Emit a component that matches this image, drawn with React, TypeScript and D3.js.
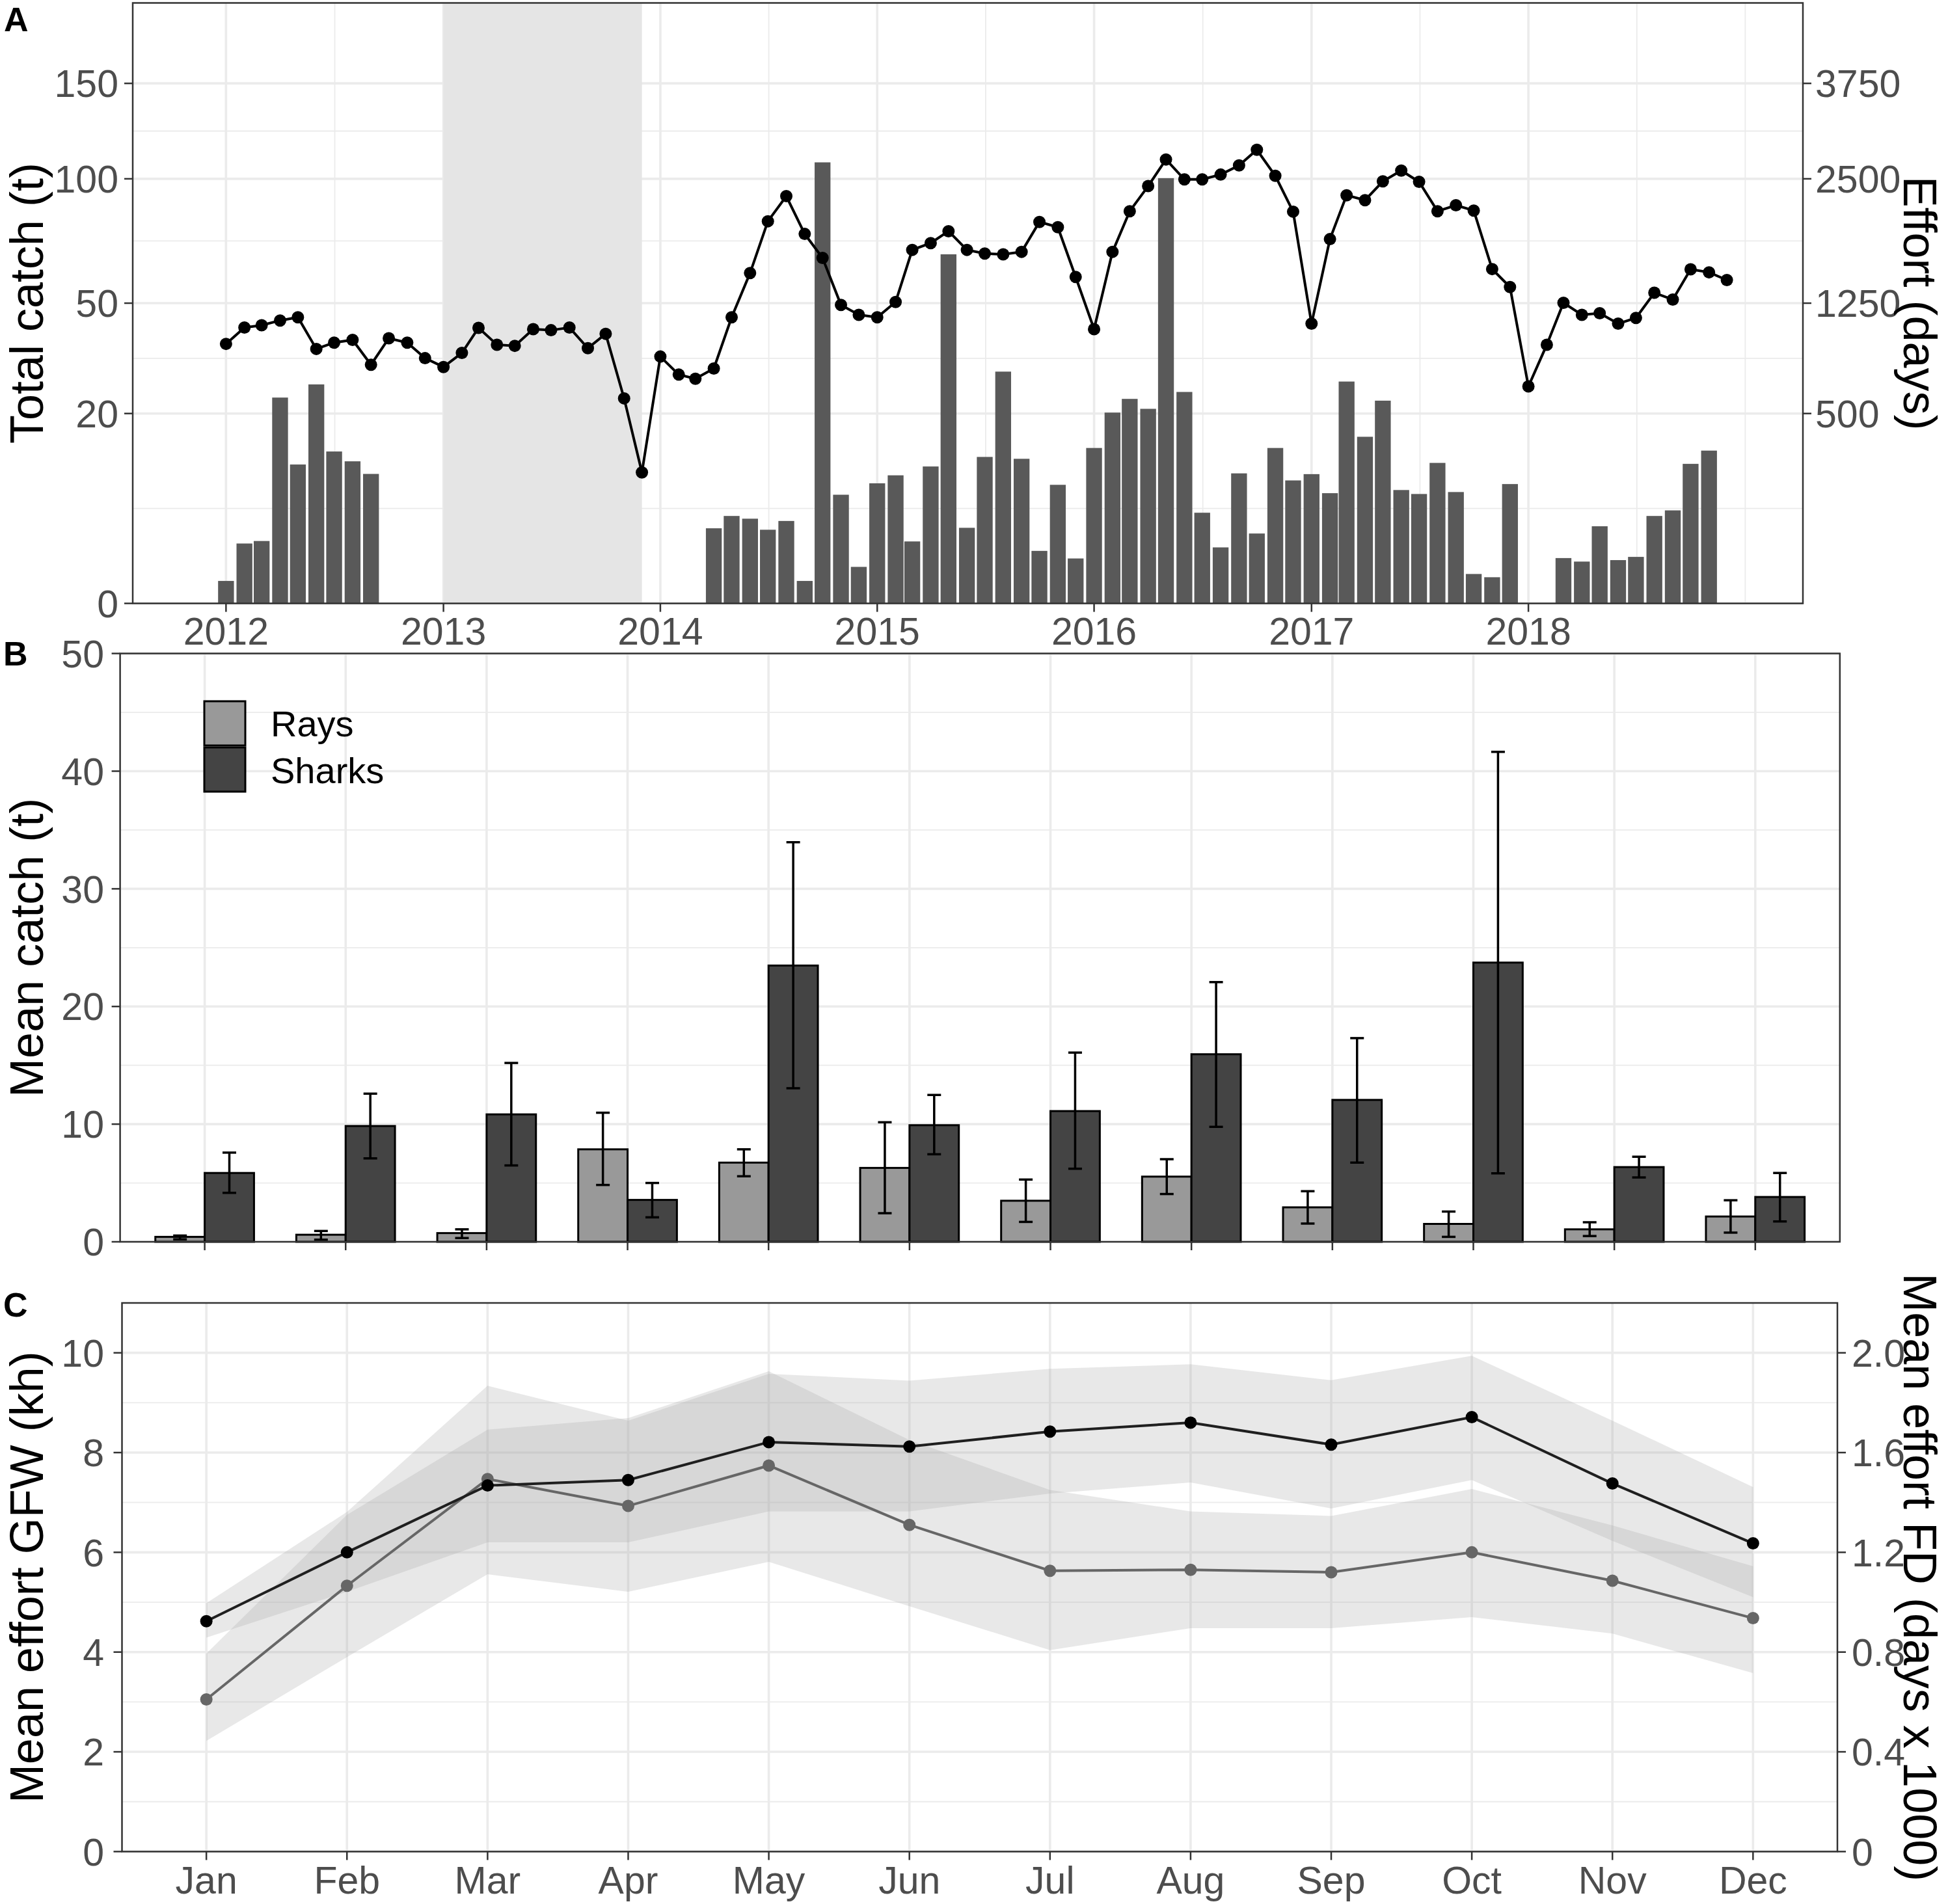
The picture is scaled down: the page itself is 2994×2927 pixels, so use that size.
import * as d3 from "d3";

const W = 2994;
const H = 2927;
const FONT = "'Liberation Sans', Arial, Helvetica, sans-serif";
const GRID = "#EBEBEB";
const AXIS = "#333333";
const TICK_TXT = "#4D4D4D";
const TICK_FS = 59;
const TITLE_FS = 72;
const TAG_FS = 52;

// ---------- Panel A: monthly total catch (t) and effort (days), 2012-2018 ----------
const catchYears = [2012, 2013, 2014, 2015, 2016, 2017, 2018];
const catch2012 = [0.28, 1.99, 2.16, 23.5, 10.7, 26.6, 12.8, 11.2, 9.3, null, null, null];
const catch2013 = [null, null, null, null, null, null, null, null, null, null, null, null];
const catch2014 = [null, null, null, 3.13, 4.24, 3.98, 3.01, 3.77, 0.28, 107.9, 6.55, 0.74];
const catch2015 = [8.0, 9.1, 2.13, 10.4, 67.6, 3.17, 11.9, 29.8, 11.6, 1.53, 7.8, 1.12];
const catch2016 = [13.4, 20.2, 23.2, 21.0, 100.3, 24.8, 4.56, 1.74, 9.38, 2.71, 13.4, 8.39];
const catch2017 = [9.27, 6.74, 27.3, 15.4, 22.8, 7.13, 6.64, 10.95, 6.88, 0.48, 0.38, 7.9];
const catch2018 = [null, null, 1.14, 0.97, 3.3, 1.04, 1.2, 4.24, 4.8, 10.8, 12.95, null];

const effort2012 = [934, 1055, 1073, 1110, 1135, 898, 943, 963, 790, 975, 943, 834];
const effort2013 = [775, 870, 1053, 928, 920, 1043, 1035, 1055, 903, 1008, 583, 238];
const effort2014 = [845, 726, 700, 765, 1135, 1513, 2025, 2300, 1893, 1655, 1235, 1155];
const effort2015 = [1135, 1260, 1733, 1800, 1921, 1733, 1698, 1690, 1714, 2018, 1963, 1478];
const effort2016 = [1043, 1714, 2133, 2415, 2733, 2493, 2493, 2550, 2660, 2853, 2535, 2128];
const effort2017 = [1085, 1840, 2310, 2255, 2470, 2598, 2465, 2133, 2198, 2140, 1550, 1388];
const effort2018 = [653, 928, 1253, 1155, 1168, 1085, 1130, 1338, 1280, 1548, 1520, 1450];

const catchTicks = [0, 20, 50, 100, 150];
const effortTicks = [500, 1250, 2500, 3750];
const effortPerCatch = 25; // secondary axis: effort = catch * 25
const closedStart = new Date(2013, 0, 1);
const closedEnd = new Date(2013, 11, 1);

// ---------- Panel B: mean monthly catch by group ----------
const months = ["Jan", "Feb", "Mar", "Apr", "May", "Jun", "Jul", "Aug", "Sep", "Oct", "Nov", "Dec"];
const raysMean = [0.42, 0.6, 0.74, 7.86, 6.73, 6.28, 3.49, 5.54, 2.93, 1.52, 1.06, 2.15];
const raysLo = [0.21, 0.18, 0.32, 4.83, 5.57, 2.43, 1.69, 4.06, 1.55, 0.42, 0.49, 0.78];
const raysHi = [0.53, 0.92, 1.06, 10.97, 7.86, 10.16, 5.29, 7.02, 4.3, 2.57, 1.66, 3.53];
const sharksMean = [5.85, 9.84, 10.83, 3.56, 23.48, 9.91, 11.11, 15.94, 12.06, 23.73, 6.35, 3.81];
const sharksLo = [4.16, 7.09, 6.49, 2.08, 13.05, 7.44, 6.21, 9.77, 6.73, 5.82, 5.47, 1.73];
const sharksHi = [7.58, 12.59, 15.2, 5.0, 33.96, 12.48, 16.08, 22.07, 17.31, 41.64, 7.23, 5.85];
const meanCatchTicks = [0, 10, 20, 30, 40, 50];

// ---------- Panel C: mean monthly effort ----------
const gfwMean = [3.05, 5.33, 7.47, 6.93, 7.74, 6.55, 5.63, 5.65, 5.6, 6.0, 5.43, 4.68];
const gfwLo = [2.22, 3.9, 5.56, 5.21, 5.81, 4.92, 4.04, 4.48, 4.48, 4.7, 4.37, 3.58];
const gfwHi = [3.97, 6.75, 8.46, 8.69, 9.63, 8.25, 7.25, 6.82, 6.73, 7.27, 6.54, 5.72];
const fdMean = [0.924, 1.2, 1.468, 1.49, 1.642, 1.624, 1.684, 1.72, 1.632, 1.742, 1.476, 1.236];
const fdLo = [0.858, 1.042, 1.24, 1.24, 1.364, 1.364, 1.436, 1.48, 1.376, 1.49, 1.246, 1.02];
const fdHi = [0.996, 1.362, 1.868, 1.728, 1.916, 1.888, 1.936, 1.954, 1.89, 1.988, 1.728, 1.462];
const gfwTicks = [0, 2, 4, 6, 8, 10];
const fdTicks = [0, 0.4, 0.8, 1.2, 1.6, 2.0];
const fdPerGfw = 0.2; // secondary axis: FD = GFW / 5

const catchByYear = [catch2012, catch2013, catch2014, catch2015, catch2016, catch2017, catch2018];
const effortByYear = [effort2012, effort2013, effort2014, effort2015, effort2016, effort2017, effort2018];

type MonthRow = { date: Date; catchT: number | null; effort: number };
const monthly: MonthRow[] = [];
catchYears.forEach((yr, i) => {
  for (let m = 0; m < 12; m++) {
    monthly.push({ date: new Date(yr, m, 1), catchT: catchByYear[i][m], effort: effortByYear[i][m] });
  }
});

const PanelA = () => {
  const left = 204, right = 2771, top = 4.5, bottom = 927.6;
  const x = d3.scaleTime().domain([new Date(2011, 6, 28), new Date(2019, 3, 8)]).range([left, right]);
  const y = d3.scaleSqrt().domain([0, 200]).range([bottom, top]);

  const yearDates = catchYears.map((yr) => new Date(yr, 0, 1));
  const ext = [new Date(2011, 0, 1), ...yearDates, new Date(2019, 0, 1)];
  const xMinor: Date[] = [];
  for (let i = 0; i < ext.length - 1; i++) {
    xMinor.push(new Date((ext[i].getTime() + ext[i + 1].getTime()) / 2));
  }
  xMinor.push(ext[ext.length - 1]);
  const xMinorIn = xMinor.filter((d) => x(d) > left && x(d) < right);

  const yMinor: number[] = [];
  for (let i = 0; i < catchTicks.length - 1; i++) {
    const m = (Math.sqrt(catchTicks[i]) + Math.sqrt(catchTicks[i + 1])) / 2;
    yMinor.push(m * m);
  }

  const monthW = x(new Date(2012, 1, 1)) - x(new Date(2012, 0, 1));
  const barW = monthW * 0.86;

  const line = d3
    .line<MonthRow>()
    .x((d) => x(d.date))
    .y((d) => y(d.effort / effortPerCatch));

  return (
    <g>
      <rect x={left} y={top} width={right - left} height={bottom - top} fill="white" />
      {xMinorIn.map((d, i) => (
        <line key={"xm" + i} x1={x(d)} x2={x(d)} y1={top} y2={bottom} stroke={GRID} strokeWidth={1.8} />
      ))}
      {yMinor.map((v, i) => (
        <line key={"ym" + i} x1={left} x2={right} y1={y(v)} y2={y(v)} stroke={GRID} strokeWidth={1.8} />
      ))}
      {yearDates.map((d, i) => (
        <line key={"xM" + i} x1={x(d)} x2={x(d)} y1={top} y2={bottom} stroke={GRID} strokeWidth={3.6} />
      ))}
      {catchTicks.map((v, i) => (
        <line key={"yM" + i} x1={left} x2={right} y1={y(v)} y2={y(v)} stroke={GRID} strokeWidth={3.6} />
      ))}
      <rect
        x={x(closedStart)}
        y={top}
        width={x(closedEnd) - x(closedStart)}
        height={bottom - top}
        fill="#E5E5E5"
      />
      {monthly
        .filter((d) => d.catchT !== null)
        .map((d, i) => (
          <rect
            key={"bar" + i}
            x={x(d.date) - barW / 2}
            y={y(d.catchT as number)}
            width={barW}
            height={bottom - y(d.catchT as number)}
            fill="#595959"
          />
        ))}
      <path d={line(monthly) || ""} fill="none" stroke="black" strokeWidth={4} />
      {monthly.map((d, i) => (
        <circle key={"pt" + i} cx={x(d.date)} cy={y(d.effort / effortPerCatch)} r={9.5} fill="black" />
      ))}
      <rect x={left} y={top} width={right - left} height={bottom - top} fill="none" stroke={AXIS} strokeWidth={2.5} />

      {catchTicks.map((v, i) => (
        <g key={"lt" + i}>
          <line x1={left - 13} x2={left} y1={y(v)} y2={y(v)} stroke={AXIS} strokeWidth={2.5} />
          <text x={182} y={y(v)} dy="0.36em" textAnchor="end" fontSize={TICK_FS} fill={TICK_TXT}>
            {v}
          </text>
        </g>
      ))}
      {effortTicks.map((v, i) => (
        <g key={"rt" + i}>
          <line x1={right} x2={right + 13} y1={y(v / effortPerCatch)} y2={y(v / effortPerCatch)} stroke={AXIS} strokeWidth={2.5} />
          <text x={2790} y={y(v / effortPerCatch)} dy="0.36em" textAnchor="start" fontSize={TICK_FS} fill={TICK_TXT}>
            {v}
          </text>
        </g>
      ))}
      {yearDates.map((d, i) => (
        <g key={"bt" + i}>
          <line x1={x(d)} x2={x(d)} y1={bottom} y2={bottom + 13} stroke={AXIS} strokeWidth={2.5} />
          <text x={x(d)} y={991} textAnchor="middle" fontSize={TICK_FS} fill={TICK_TXT}>
            {catchYears[i]}
          </text>
        </g>
      ))}
      <text transform={`translate(66,${(top + bottom) / 2}) rotate(-90)`} textAnchor="middle" fontSize={TITLE_FS}>
        Total catch (t)
      </text>
      <text transform={`translate(2926,${(top + bottom) / 2}) rotate(90)`} textAnchor="middle" fontSize={TITLE_FS}>
        Effort (days)
      </text>
      <text x={6} y={48} fontSize={TAG_FS} fontWeight="bold">
        A
      </text>
    </g>
  );
};

const PanelB = () => {
  const left = 184.6, right = 2827.8, top = 1004.6, bottom = 1909;
  const x = d3.scalePoint<string>().domain(months).range([left, right]).padding(0.6);
  const y = d3.scaleLinear().domain([0, 50]).range([bottom, top]);
  const bw = x.step() * 0.35;
  const cap = 10.5;
  const yMinor = [5, 15, 25, 35, 45];

  const groups = [
    { name: "Rays", fill: "#999999", mean: raysMean, lo: raysLo, hi: raysHi, off: -bw },
    { name: "Sharks", fill: "#444444", mean: sharksMean, lo: sharksLo, hi: sharksHi, off: 0 },
  ];

  return (
    <g>
      <rect x={left} y={top} width={right - left} height={bottom - top} fill="white" />
      {yMinor.map((v, i) => (
        <line key={"ym" + i} x1={left} x2={right} y1={y(v)} y2={y(v)} stroke={GRID} strokeWidth={1.8} />
      ))}
      {meanCatchTicks.map((v, i) => (
        <line key={"yM" + i} x1={left} x2={right} y1={y(v)} y2={y(v)} stroke={GRID} strokeWidth={3.6} />
      ))}
      {months.map((m) => (
        <line key={"xM" + m} x1={x(m)} x2={x(m)} y1={top} y2={bottom} stroke={GRID} strokeWidth={3.6} />
      ))}
      {groups.map((g) =>
        months.map((m, i) => (
          <rect
            key={g.name + m}
            x={(x(m) as number) + g.off}
            y={y(g.mean[i])}
            width={bw}
            height={bottom - y(g.mean[i])}
            fill={g.fill}
            stroke="black"
            strokeWidth={3}
          />
        ))
      )}
      {groups.map((g) =>
        months.map((m, i) => {
          const cx = (x(m) as number) + g.off + bw / 2;
          return (
            <g key={"eb" + g.name + m} stroke="black" strokeWidth={3.5}>
              <line x1={cx} x2={cx} y1={y(g.lo[i])} y2={y(g.hi[i])} />
              <line x1={cx - cap} x2={cx + cap} y1={y(g.hi[i])} y2={y(g.hi[i])} />
              <line x1={cx - cap} x2={cx + cap} y1={y(g.lo[i])} y2={y(g.lo[i])} />
            </g>
          );
        })
      )}
      <rect x={left} y={top} width={right - left} height={bottom - top} fill="none" stroke={AXIS} strokeWidth={2.5} />

      {/* legend */}
      {groups.map((g, i) => (
        <g key={"lg" + g.name}>
          <rect x={314} y={1078 + i * 71} width={63} height={68} fill={g.fill} stroke="black" strokeWidth={3} />
          <text x={416} y={1112 + i * 72} dy="0.36em" fontSize={56}>
            {g.name}
          </text>
        </g>
      ))}

      {meanCatchTicks.map((v, i) => (
        <g key={"lt" + i}>
          <line x1={left - 13} x2={left} y1={y(v)} y2={y(v)} stroke={AXIS} strokeWidth={2.5} />
          <text x={160} y={y(v)} dy="0.36em" textAnchor="end" fontSize={TICK_FS} fill={TICK_TXT}>
            {v}
          </text>
        </g>
      ))}
      {months.map((m) => (
        <line key={"bt" + m} x1={x(m)} x2={x(m)} y1={bottom} y2={bottom + 13} stroke={AXIS} strokeWidth={2.5} />
      ))}
      <text transform={`translate(66,${(top + bottom) / 2}) rotate(-90)`} textAnchor="middle" fontSize={TITLE_FS}>
        Mean catch (t)
      </text>
      <text x={5} y={1023} fontSize={TAG_FS} fontWeight="bold">
        B
      </text>
    </g>
  );
};

const PanelC = () => {
  const left = 187.5, right = 2824, top = 2003, bottom = 2846.4;
  const x = d3.scalePoint<string>().domain(months).range([left, right]).padding(0.6);
  const y = d3.scaleLinear().domain([0, 11]).range([bottom, top]);
  const yMinor = [1, 3, 5, 7, 9];

  const series = [
    { key: "gfw", color: "#666666", line: "#666666", mean: gfwMean, lo: gfwLo, hi: gfwHi, k: 1 },
    { key: "fd", color: "#000000", line: "#1f1f1f", mean: fdMean, lo: fdLo, hi: fdHi, k: 1 / fdPerGfw },
  ];

  const area = (lo: number[], hi: number[], k: number) =>
    d3
      .area<string>()
      .x((m) => x(m) as number)
      .y0((_, i) => y(lo[i] * k))
      .y1((_, i) => y(hi[i] * k))(months) || "";

  const ln = (vals: number[], k: number) =>
    d3
      .line<string>()
      .x((m) => x(m) as number)
      .y((_, i) => y(vals[i] * k))(months) || "";

  return (
    <g>
      <rect x={left} y={top} width={right - left} height={bottom - top} fill="white" />
      {yMinor.map((v, i) => (
        <line key={"ym" + i} x1={left} x2={right} y1={y(v)} y2={y(v)} stroke={GRID} strokeWidth={1.8} />
      ))}
      {gfwTicks.map((v, i) => (
        <line key={"yM" + i} x1={left} x2={right} y1={y(v)} y2={y(v)} stroke={GRID} strokeWidth={3.6} />
      ))}
      {months.map((m) => (
        <line key={"xM" + m} x1={x(m)} x2={x(m)} y1={top} y2={bottom} stroke={GRID} strokeWidth={3.6} />
      ))}
      {series.map((s) => (
        <path key={"rib" + s.key} d={area(s.lo, s.hi, s.k)} fill="#a7a7a7" fillOpacity={0.26} />
      ))}
      {series.map((s) => (
        <path key={"ln" + s.key} d={ln(s.mean, s.k)} fill="none" stroke={s.line} strokeWidth={4} />
      ))}
      {series.map((s) =>
        months.map((m, i) => (
          <circle key={"pt" + s.key + m} cx={x(m)} cy={y(s.mean[i] * s.k)} r={9.5} fill={s.color} />
        ))
      )}
      <rect x={left} y={top} width={right - left} height={bottom - top} fill="none" stroke={AXIS} strokeWidth={2.5} />

      {gfwTicks.map((v, i) => (
        <g key={"lt" + i}>
          <line x1={left - 13} x2={left} y1={y(v)} y2={y(v)} stroke={AXIS} strokeWidth={2.5} />
          <text x={160} y={y(v)} dy="0.36em" textAnchor="end" fontSize={TICK_FS} fill={TICK_TXT}>
            {v}
          </text>
        </g>
      ))}
      {fdTicks.map((v, i) => (
        <g key={"rt" + i}>
          <line x1={right} x2={right + 13} y1={y(v / fdPerGfw)} y2={y(v / fdPerGfw)} stroke={AXIS} strokeWidth={2.5} />
          <text x={2846} y={y(v / fdPerGfw)} dy="0.36em" textAnchor="start" fontSize={TICK_FS} fill={TICK_TXT}>
            {v === 0 ? "0" : v.toFixed(1)}
          </text>
        </g>
      ))}
      {months.map((m) => (
        <g key={"bt" + m}>
          <line x1={x(m)} x2={x(m)} y1={bottom} y2={bottom + 13} stroke={AXIS} strokeWidth={2.5} />
          <text x={x(m)} y={2911} textAnchor="middle" fontSize={TICK_FS} fill={TICK_TXT}>
            {m}
          </text>
        </g>
      ))}
      <text transform={`translate(66,${(top + bottom) / 2}) rotate(-90)`} textAnchor="middle" fontSize={TITLE_FS}>
        Mean effort GFW (kh)
      </text>
      <text transform={`translate(2926,${(top + bottom) / 2}) rotate(90)`} textAnchor="middle" fontSize={TITLE_FS}>
        Mean effort FD (days x 1000)
      </text>
      <text x={5} y={2024} fontSize={TAG_FS} fontWeight="bold">
        C
      </text>
    </g>
  );
};

export default function App() {
  return (
    <svg
      width={W}
      height={H}
      viewBox={`0 0 ${W} ${H}`}
      style={{ position: "absolute", left: 0, top: 0, background: "white" }}
      fontFamily={FONT}
    >
      <rect width={W} height={H} fill="white" />
      <PanelA />
      <PanelB />
      <PanelC />
    </svg>
  );
}
